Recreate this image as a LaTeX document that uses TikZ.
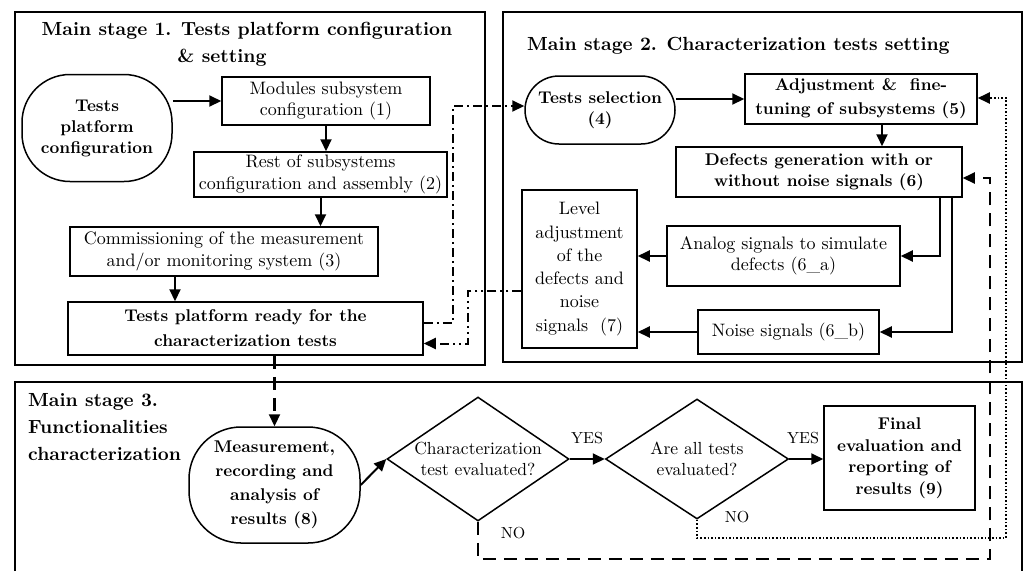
\documentclass[tikz,border=0pt]{standalone}
\usepackage{fontspec}
\setmainfont{lmroman10-regular.otf}[BoldFont=lmroman10-bold.otf]
\usetikzlibrary{arrows.meta,shapes.geometric}
\begin{document}
\begin{tikzpicture}[x=1pt,y=-1pt,
  every node/.style={font=\fontsize{18}{21.5}\selectfont},
  frame/.style={line width=1.4pt},
  box/.style={draw,line width=1.5pt,inner sep=2pt,align=center},
  bf/.style={font=\fontsize{17}{21}\selectfont\bfseries},
  hd/.style={font=\fontsize{19}{27}\selectfont\bfseries,inner sep=0pt},
  lbl/.style={font=\fontsize{16}{19}\selectfont,inner sep=0pt},
  tip/.style={-{Triangle[length=12pt,width=11pt]}},
  conn/.style={line width=2pt,tip},
  dashdot/.style={line width=2pt,dash pattern=on 9pt off 4pt on 2pt off 4pt,tip},
  dashdotdot/.style={line width=2pt,dash pattern=on 9pt off 4pt on 2pt off 4pt on 2pt off 4pt,tip},
  longdash/.style={line width=2.2pt,dash pattern=on 13pt off 8pt,tip},
  dotline/.style={line width=2pt,dash pattern=on 1.6pt off 2pt,tip},
  dmd/.style={draw,diamond,line width=1.5pt,inner sep=0pt,align=center,aspect=1.47,font=\fontsize{17.5}{21}\selectfont}
]
\useasboundingbox (0,0) rectangle (1024,571);
% frames
\draw[frame] (15,12) rectangle (485,365);
\draw[frame] (503,12) rectangle (1022,362);
\draw[frame] (15,571) -- (15,382) -- (1022,382) -- (1022,571);
% headings
\node[hd,anchor=base] (h1a) at (247,35) {Main stage 1. Tests platform configuration};
\node[hd,anchor=base] (h1b) at (222,62) {\& setting};
\node[hd,anchor=base west] (h2) at (527,50) {Main stage 2. Characterization tests setting};
\node[hd,anchor=north west,align=left] (h3) at (28,393) {Main stage 3.\\Functionalities\\characterization};
% stage 1
\node[box,bf,rectangle,rounded corners=48pt,minimum width=150pt,minimum height=107pt] (e0) at (97,128) {Tests\\platform\\configuration};
\node[box,minimum width=208pt,minimum height=48pt] (b1) at (326,101) {Modules subsystem\\configuration (1)};
\node[box,minimum width=253pt,minimum height=45pt] (b2) at (320.5,174.5) {Rest of subsystems\\configuration and assembly (2)};
\node[box,minimum width=308pt,minimum height=49pt] (b3) at (224,251.5) {Commissioning of the measurement\\and/or monitoring system (3)};
\node[box,bf,font=\fontsize{17}{25}\selectfont\bfseries,minimum width=355pt,minimum height=53pt] (b4) at (245.5,328.5) {Tests platform ready for the\\characterization tests};
% stage 2
\node[box,bf,rectangle,rounded corners=34pt,minimum width=150pt,minimum height=68pt] (ts) at (600,110) {Tests selection\\(4)};
\node[box,bf,font=\fontsize{17}{24}\selectfont\bfseries,minimum width=232pt,minimum height=50pt] (b5) at (861,99) {Adjustment \& \ fine-\\tuning of subsystems (5)};
\node[box,bf,minimum width=286pt,minimum height=50pt] (b6) at (819,172) {Defects generation with or\\without noise signals (6)};
\node[box,minimum width=233pt,minimum height=60pt] (a6) at (783.5,256) {Analog signals to simulate\\defects (6\_a)};
\node[box,minimum width=181pt,minimum height=44pt] (n6) at (788.5,332) {Noise signals (6\_b)};
\node[box,font=\fontsize{18}{23.3}\selectfont,minimum width=115pt,minimum height=158pt] (L7) at (579.5,269) {Level\\adjustment\\of the\\defects and\\noise\\signals \ (7)};
% stage 3
\node[box,bf,font=\fontsize{17}{24}\selectfont\bfseries,rectangle,rounded corners=52pt,minimum width=171pt,minimum height=116pt] (n8) at (274.5,485) {Measurement,\\recording and\\analysis of\\results (8)};
\node[dmd,minimum width=182pt,minimum height=124pt] (d1) at (478,459) {Characterization\\test evaluated?};
\node[dmd,minimum width=183pt,minimum height=120pt] (d2) at (697,459) {Are all tests\\evaluated?};
\node[box,bf,font=\fontsize{17}{21.5}\selectfont\bfseries,minimum width=151pt,minimum height=104pt] (b9) at (899.5,458) {Final\\evaluation and\\reporting of\\results (9)};
% labels
\node[lbl] (y1) at (587,438) {YES};
\node[lbl] (y2) at (803,438) {YES};
\node[lbl] (no1) at (513,533) {NO};
\node[lbl] (no2) at (737,517) {NO};
% solid connectors
\draw[conn] (e0.east |- b1.west) -- (b1.west);
\draw[conn] (b1.south) -- (b1.south |- b2.north);
\draw[conn] (b2.south) -- (b2.south |- b3.north);
\draw[conn] ([xshift=-49pt]b3.south) -- ([xshift=-49pt]b3.south |- b4.north);
\draw[conn] (ts.east |- b5.west) -- (b5.west);
\draw[conn] ([xshift=21pt]b5.south) -- ([xshift=21pt]b5.south |- b6.north);
\draw[conn] ([xshift=121pt]b6.south) |- (a6.east);
\draw[conn] ([xshift=133pt]b6.south) |- (n6.east);
\draw[conn] (a6.west) -- (a6.west -| L7.east);
\draw[conn] (n6.west) -- (n6.west -| L7.east);
\draw[conn] (n8.east) -- (d1.west);
\draw[conn] (d1.east) -- (d2.west);
\draw[conn] (d2.east) -- (d2.east -| b9.west);
% styled connectors
\draw[longdash] (n8.north |- b4.south) -- (n8.north);
\coordinate (dd1) at (453,106);
\draw[dashdot] ([yshift=6pt]b4.east) -| (dd1) -- ([yshift=4pt]ts.west);
\coordinate (dd2) at (468,317);
\draw[dashdotdot] ([yshift=-22pt]L7.west) -| (dd2) |- ([yshift=-15pt]b4.east);
\coordinate (nb) at (990,559);
\draw[longdash] (d1.south) |- (nb) |- ([yshift=-6pt]b6.east);
\coordinate (nd) at (1006,538);
\draw[dotline] (d2.south) |- (nd) |- ([yshift=1pt]b5.east);
\end{tikzpicture}
\end{document}
